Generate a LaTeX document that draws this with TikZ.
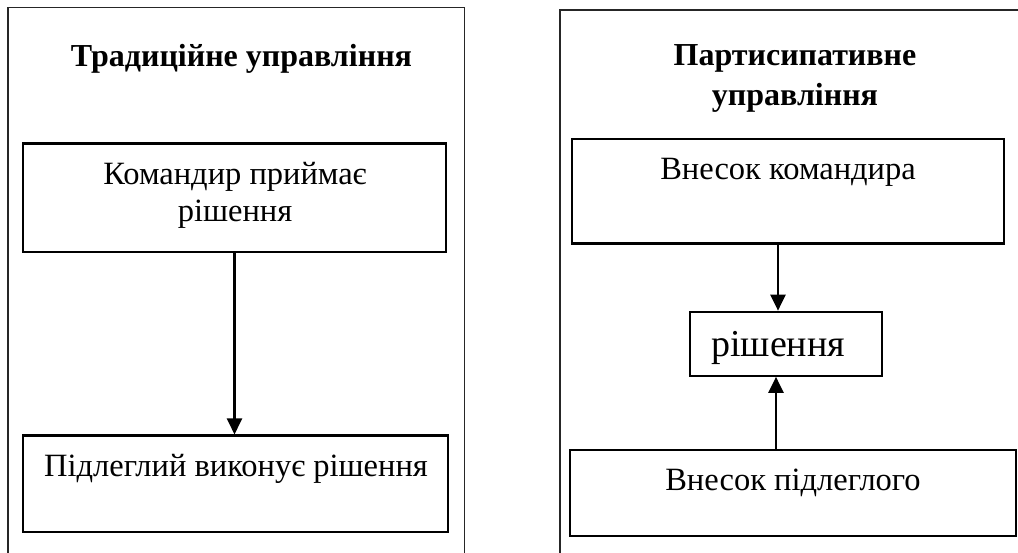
\documentclass[tikz,border=0pt]{standalone}
\usepackage{fontspec}
\setmainfont{Liberation Serif}
\usetikzlibrary{arrows.meta}
\begin{document}
\begin{tikzpicture}[x=1pt,y=-1pt,
  panel/.style={line width=1.3pt,draw=black!85},
  box/.style={draw=black,line width=2.3pt,inner sep=0pt,rectangle},
  txt/.style={inner sep=0pt,font=\fontsize{32.5}{37}\selectfont,align=center},
  bigtxt/.style={inner sep=0pt,font=\fontsize{38}{44}\selectfont},
  headtxt/.style={inner sep=0pt,font=\fontsize{32}{40.5}\selectfont\bfseries,align=center},
  arr/.style={line width=2.3pt,-{Triangle[length=16pt,width=15pt]}}]
\useasboundingbox (0,0) rectangle (1018,553);

% outer frames of the two columns
\draw[panel] (8,553) -- (8,7.8) -- (464.5,7.8) -- (464.5,553);
\draw[panel] (560,553) -- (560,9.9) -- (1018,9.9);

% left column: traditional management
\node[headtxt,anchor=base] (tl) at (241.5,67) {Традиційне управління};
\node[box,minimum width=423pt,minimum height=108.3pt] (cmd) at (234.5,197.75) {};
% base anchor of a multi-line node sits on its last line
\node[txt,anchor=base] (cmdtxt) at (235,222) {Командир приймає\\рішення};
\node[box,minimum width=425pt,minimum height=96.4pt] (sub) at (235.5,483.8) {};
\node[txt,anchor=base] (subtxt) at (236,476) {Підлеглий виконує рішення};
\draw[arr] (cmd.south) -- (cmd.south |- sub.north);

% right column: participative management
\node[headtxt,anchor=base] (tr) at (795,105.8) {Партисипативне\\управління};
\node[box,minimum width=432pt,minimum height=104.1pt] (ca) at (788,191.35) {};
\node[txt,anchor=base] (catxt) at (788,180) {Внесок командира};
\node[box,minimum width=192pt,minimum height=63.9pt] (dec) at (786,343.75) {};
\node[bigtxt,anchor=base west] (dectxt) at (711,356.3) {рішення};
\node[box,minimum width=446pt,minimum height=86.3pt] (sa) at (793,492.85) {};
\node[txt,anchor=base] (satxt) at (793,490) {Внесок підлеглого};
\draw[arr] ([xshift=-10pt]ca.south) -- ([xshift=-8pt]dec.north);
\draw[arr] ([xshift=-17pt]sa.north) -- ([xshift=-10pt]dec.south);
\end{tikzpicture}
\end{document}
